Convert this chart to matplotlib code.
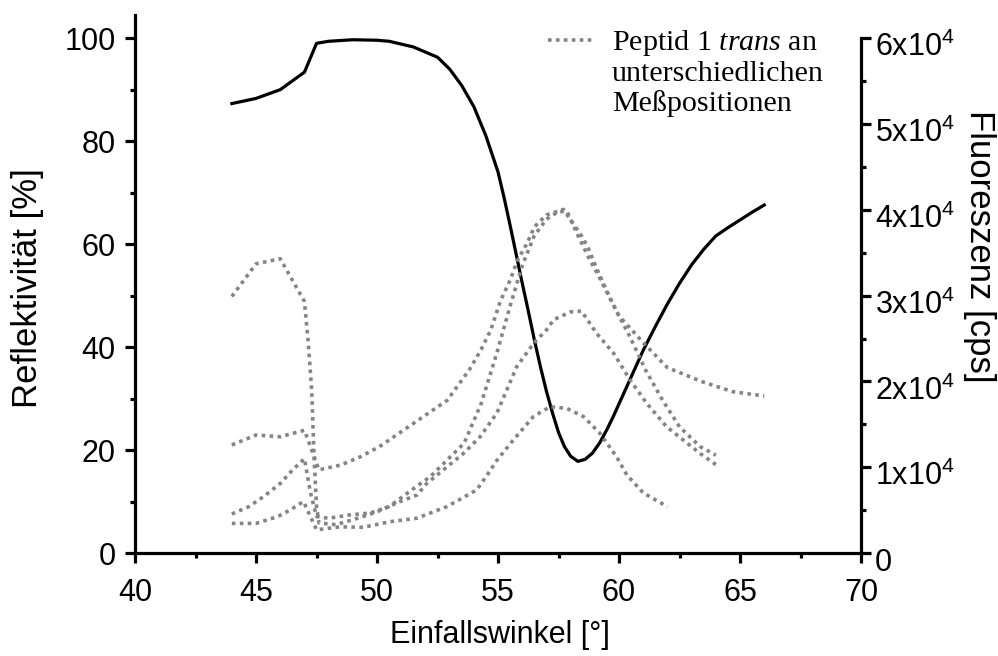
import matplotlib
matplotlib.use('Agg')
import matplotlib.pyplot as plt
import matplotlib.transforms as mtransforms
from matplotlib.ticker import MultipleLocator, FixedLocator, FixedFormatter
from matplotlib.font_manager import FontProperties

plt.rcParams['font.family'] = 'Liberation Sans'
plt.rcParams['mathtext.fontset'] = 'custom'
plt.rcParams['mathtext.rm'] = 'Liberation Sans'
plt.rcParams['mathtext.it'] = 'Liberation Serif:italic'
plt.rcParams['mathtext.default'] = 'regular'

# Reflektivitaet (linke Achse)
angle_refl = [44, 45, 46, 47, 47.5, 48, 49, 50, 50.5, 51.5, 52.5, 53, 53.5, 54,
              54.5, 55, 55.25, 55.5, 55.75, 56, 56.25, 56.5, 56.75, 57, 57.25,
              57.5, 57.75, 58, 58.3, 58.6, 58.9, 59.2, 59.5, 59.75, 60, 60.5, 61,
              61.5, 62, 62.5, 63, 63.5, 64, 64.5, 65, 65.5, 66]
reflectivity = [87.3, 88.3, 90.0, 93.4, 99.0, 99.4, 99.7, 99.6, 99.4, 98.3, 96.3,
                94.0, 90.8, 86.7, 81.0, 74.0, 69.0, 63.6, 58.0, 52.4, 47.0, 41.4,
                36.2, 31.4, 27.2, 23.4, 20.6, 18.8, 17.8, 18.2, 19.4, 21.4, 24.0,
                26.4, 29.0, 34.2, 39.4, 44.0, 48.4, 52.4, 56.0, 59.0, 61.6, 63.2,
                64.7, 66.2, 67.6]

# Fluoreszenz (rechte Achse), vier Messpositionen
angle_f1 = [44, 45, 46, 47, 47.6, 48.5, 49.3, 50.1, 51.5, 52.9, 53.8, 54.3, 54.7,
            55.1, 55.5, 55.8, 56.2, 56.5, 57.0, 57.7, 58.1, 58.4, 58.7, 59.1, 59.6,
            60.0, 60.3, 61.0, 62.0, 63.4, 64.7, 66.0]
fluor_f1 = [12600, 13750, 13550, 14300, 9700, 10250, 11200, 12400, 15100, 17800,
            21300, 23700, 26000, 29400, 31800, 34100, 36100, 38000, 39400, 40050,
            38400, 37200, 35700, 33000, 29900, 27600, 26700, 24500, 21600, 20000,
            18800, 18300]

angle_f2 = [44, 44.7, 45.3, 46.0, 46.5, 47.0, 47.25, 47.5, 48.0, 48.9, 49.7, 50.5,
            51.6, 52.2, 53.6, 54.3, 54.95, 55.5, 56.0, 56.5, 57.0, 57.5, 57.85,
            58.25, 58.8, 59.1, 59.8, 60.45, 61.1, 61.8, 62.5, 63.35, 64.0]
fluor_f2 = [4550, 5400, 6550, 8100, 9650, 11000, 7000, 4250, 4050, 4450, 4650, 5400,
            7700, 8900, 12800, 17400, 23300, 28800, 33500, 37000, 38900, 39800,
            39800, 37300, 34100, 32600, 28700, 25200, 21300, 17800, 14700, 12400,
            11400]

angle_f3 = [44, 45, 46, 47.0, 47.15, 47.3, 47.4, 47.5, 47.6, 48.3, 49.2, 50.0,
            50.95, 51.65, 52.05, 53.57, 54.26, 54.95, 55.77, 56.46, 57.0, 57.3,
            58.0, 58.45, 59.07, 59.77, 60.45, 61.14, 61.97, 63.35, 64.0]
fluor_f3 = [29900, 33700, 34300, 29300, 24800, 19000, 11000, 5400, 3500, 3300, 4050,
            4800, 6000, 6750, 8100, 11600, 13550, 16300, 21700, 24400, 26000, 27200,
            28100, 28200, 25600, 23300, 20200, 17450, 14700, 11600, 10300]

angle_f4 = [44, 45, 45.9, 46.4, 46.96, 47.5, 48.47, 49.43, 50.54, 51.64, 52.88,
            54.12, 54.6, 54.95, 55.64, 56.46, 57.15, 57.84, 58.53, 59.21, 59.9,
            60.32, 61.0, 62.0]
fluor_f4 = [3450, 3450, 4250, 5000, 6000, 2700, 3050, 3000, 3650, 4050, 5400, 7350,
            9300, 10800, 13200, 15900, 17050, 16850, 15900, 13950, 11200, 9100,
            7000, 5400]

right_ticks = [0, 10000, 20000, 30000, 40000, 50000, 60000]
right_labels = ['0', '1x$10^{4}$', '2x$10^{4}$', '3x$10^{4}$', '4x$10^{4}$',
                '5x$10^{4}$', '6x$10^{4}$']

fs = 22
lw = 2.3
grey = '#858585'
dots = (0, (1, 1.2))

fig = plt.figure(figsize=(9.98, 6.56), dpi=100)
ax = fig.add_axes([0.1353, 0.1570, 0.7275, 0.8201])
ax2 = ax.twinx()

ax.plot(angle_refl, reflectivity, color='black', lw=lw)
h, = ax2.plot(angle_f1, fluor_f1, color=grey, lw=2.6, linestyle=dots)
ax2.plot(angle_f2, fluor_f2, color=grey, lw=2.6, linestyle=dots)
ax2.plot(angle_f3, fluor_f3, color=grey, lw=2.6, linestyle=dots)
ax2.plot(angle_f4, fluor_f4, color=grey, lw=2.6, linestyle=dots)

ax.set_xlim(40, 70)
ax.set_ylim(0, 104.5)
ax2.set_ylim(0, 62700)

for s in ['top', 'right']:
    ax.spines[s].set_visible(False)
for s in ['top', 'left', 'bottom']:
    ax2.spines[s].set_visible(False)
ax.spines['left'].set_linewidth(lw)
ax.spines['bottom'].set_linewidth(lw)
ax2.spines['right'].set_linewidth(lw)
ax2.spines['right'].set_bounds(0, 60000)

ax.xaxis.set_major_locator(MultipleLocator(5))
ax.xaxis.set_minor_locator(MultipleLocator(2.5))
ax.yaxis.set_major_locator(MultipleLocator(20))
ax.yaxis.set_minor_locator(MultipleLocator(10))
ax2.yaxis.set_major_locator(FixedLocator(right_ticks))
ax2.yaxis.set_major_formatter(FixedFormatter(right_labels))
ax2.yaxis.set_minor_locator(MultipleLocator(5000))

ax.tick_params(which='major', direction='out', length=7, width=lw, labelsize=fs)
ax.tick_params(which='minor', direction='out', length=3.5, width=lw)
ax.tick_params(axis='x', pad=11)
ax.tick_params(axis='y', pad=7)
ax2.tick_params(which='major', direction='out', length=7, width=lw, labelsize=fs, pad=3)
ax2.tick_params(which='minor', direction='out', length=3.5, width=lw)

# rechte Beschriftungen etwas tiefer setzen, wie im Original
shift = mtransforms.ScaledTranslation(0, -6 / 100, fig.dpi_scale_trans)
for lab in ax2.get_yticklabels():
    lab.set_transform(lab.get_transform() + shift)

fig.text(0.501, 0.032, 'Einfallswinkel [°]', ha='center', va='center', fontsize=fs)
fig.text(0.028, 0.561, 'Reflektivität [%]', ha='center', va='center',
         rotation=90, fontsize=25)
fig.text(0.981, 0.625, 'Fluoreszenz [cps]', ha='center', va='center',
         rotation=270, fontsize=25)

serif = FontProperties(family='Liberation Serif', size=21.6)
ax2.legend([h], ['Peptid 1 $\\mathit{trans}$ an'], loc='upper left',
           bbox_to_anchor=(548 / 998, 1 - 28 / 656), bbox_transform=fig.transFigure,
           frameon=False, prop=serif, handlelength=1.47, handletextpad=0.67,
           borderpad=0, borderaxespad=0)
fig.text(612 / 998, 1 - 81 / 656, 'unterschiedlichen', fontproperties=serif,
         va='baseline')
fig.text(612 / 998, 1 - 111 / 656, 'Meßpositionen', fontproperties=serif,
         va='baseline')

fig.savefig('out.png', dpi=100)
